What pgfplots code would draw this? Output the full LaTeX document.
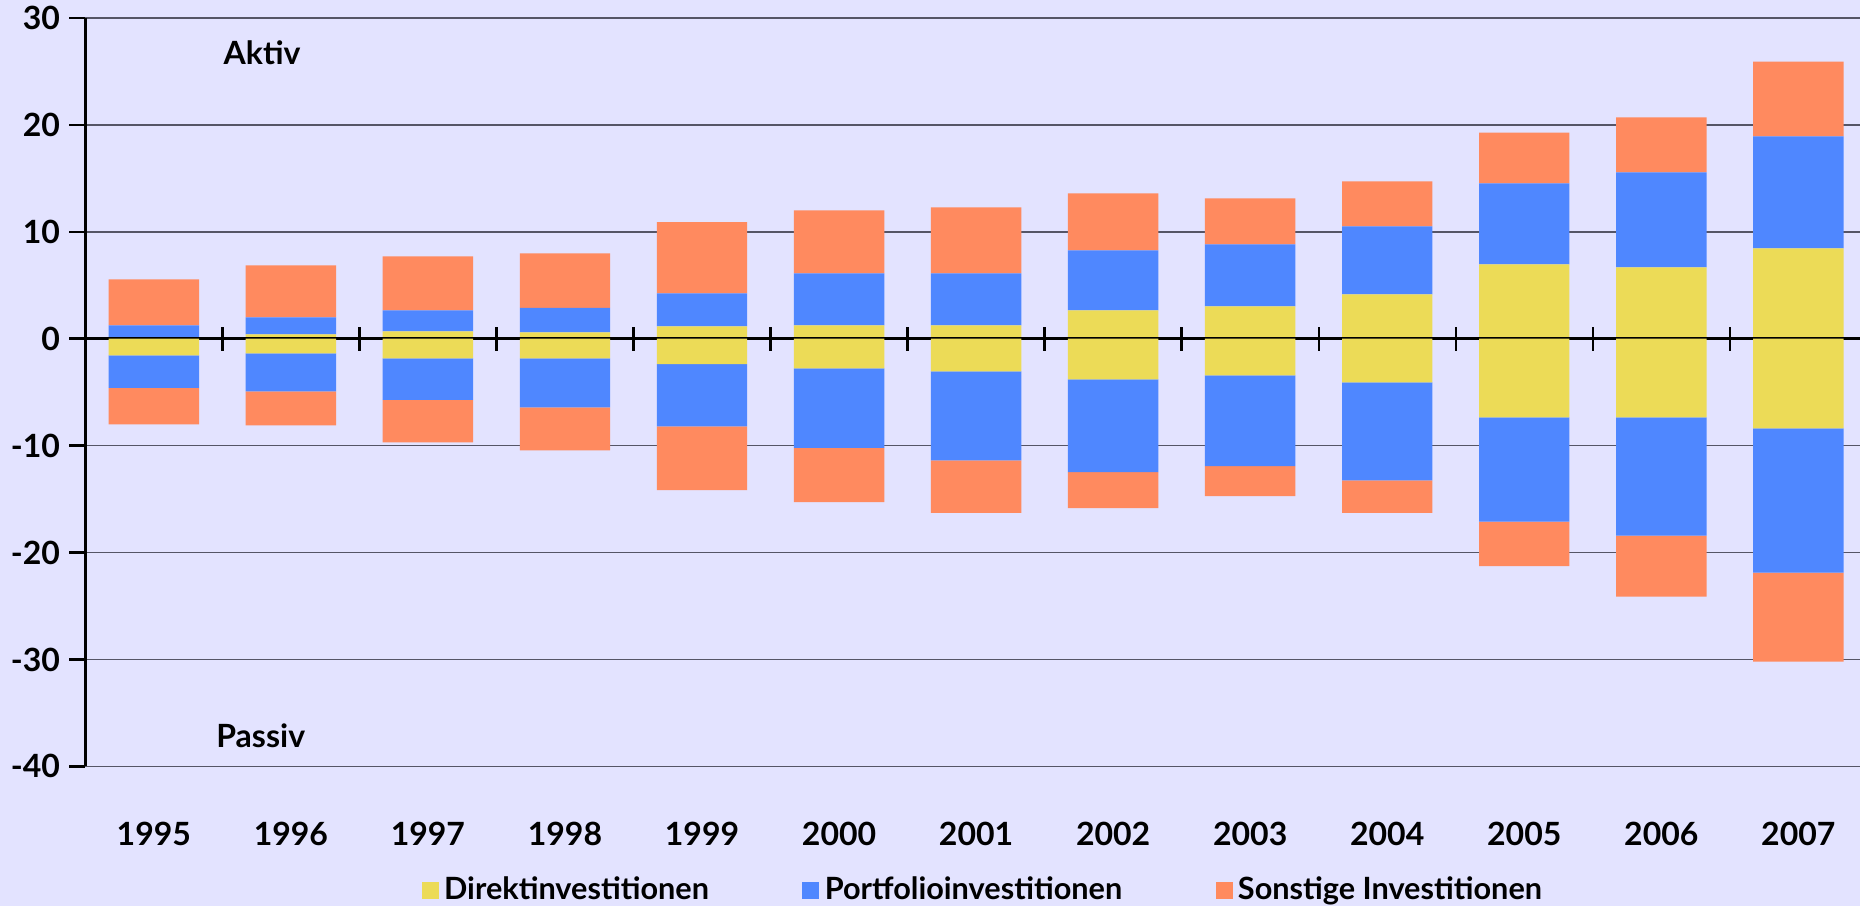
\documentclass[border=0pt]{standalone}
\usepackage{pgfplots}
\pgfplotsset{compat=1.18}
\usepackage{pgfplotstable}
\usepackage{fontspec}
\setmainfont{Lato}

\definecolor{bg}{HTML}{E3E3FF}
\definecolor{direkt}{HTML}{ECDB57}
\definecolor{portf}{HTML}{4F87FF}
\definecolor{sonst}{HTML}{FF8A5F}
\definecolor{gridc}{HTML}{555566}

% positive part (Aktiv) and negative part (Passiv) per category
\pgfplotstableread{
x  Dp    Pp     Sp    Dn     Pn      Sn
0  0.00  1.25   4.30  -1.56  -3.05   -3.40
1  0.40  1.60   4.85  -1.37  -3.55   -3.18
2  0.69  1.96   5.05  -1.84  -3.89   -3.96
3  0.60  2.27   5.11  -1.84  -4.58   -4.02
4  1.15  3.09   6.66  -2.37  -5.82   -5.97
5  1.25  4.85   5.90  -2.77  -7.45   -5.07
6  1.25  4.85   6.17  -3.05  -8.32   -4.93
7  2.65  5.61   5.32  -3.80  -8.69   -3.36
8  3.02  5.80   4.30  -3.43  -8.50   -2.79
9  4.14  6.36   4.20  -4.08  -9.16   -3.06
10 6.95  7.57   4.76  -7.35  -9.75   -4.18
11 6.67  8.88   5.14  -7.35  -11.06  -5.71
12 8.44  10.47  7.01  -8.38  -13.49  -8.33
}\datatable

\pgfplotsset{
  base/.style={
    scale only axis, width=665.5pt, height=280.7pt,
    at={(0pt,0pt)}, anchor=south west,
    xmin=-0.5, xmax=12.45, ymin=-40, ymax=30,
    ybar stacked, bar width=0.66,
  },
}

\begin{document}
\begin{tikzpicture}
\fill[bg] (-32pt,-52.4pt) rectangle (665.5pt,287.4pt);

\begin{axis}[base,
  axis y line*=left,
  axis x line*=bottom,
  x axis line style={draw=none},
  y axis line style={line width=0.9pt},
  xtick={0,...,12},
  xticklabels={1995,1996,1997,1998,1999,2000,2001,2002,2003,2004,2005,2006,2007},
  xtick style={draw=none},
  xticklabel style={anchor=center, yshift=-19.4pt},
  ytick={-40,-30,...,30},
  ytick style={line width=0.9pt, black},
  tick align=outside, major tick length=6pt,
  ymajorgrids, grid style={gridc, line width=0.6pt},
  /pgf/number format/assume math mode=true,
  tick label style={font=\bfseries\fontsize{12}{13}\selectfont},
  legend style={at={(0.5067,-0.1653)}, anchor=center, draw=none, fill=none,
    legend columns=-1, font=\bfseries\fontsize{11.5}{12}\selectfont,
    /tikz/every even column/.append style={column sep=33pt}},
  legend image code/.code={\fill[#1] (0pt,-3.2pt) rectangle (6.4pt,3.2pt);},
]
\addplot[draw=none, fill=direkt] table[x=x, y=Dp] {\datatable};
\addlegendentry{Direktinvestitionen}
\addplot[draw=none, fill=portf] table[x=x, y=Pp] {\datatable};
\addlegendentry{Portfolioinvestitionen}
\addplot[draw=none, fill=sonst] table[x=x, y=Sp] {\datatable};
\addlegendentry{Sonstige Investitionen}
\node[font=\bfseries\fontsize{12}{13}\selectfont] at (axis cs:0.79,26.7) {Aktiv};
\node[font=\bfseries\fontsize{12}{13}\selectfont] at (axis cs:0.78,-37.1) {Passiv};
\end{axis}

\begin{axis}[base,
  axis y line=none,
  axis x line*=middle,
  x axis line style={line width=1.1pt},
  xtick={0.5,1.5,...,11.5},
  xticklabels={},
  xtick style={line width=0.9pt, black},
  tick align=center, major tick length=9pt,
]
\addplot[draw=none, fill=direkt] table[x=x, y=Dn] {\datatable};
\addplot[draw=none, fill=portf] table[x=x, y=Pn] {\datatable};
\addplot[draw=none, fill=sonst] table[x=x, y=Sn] {\datatable};
\end{axis}

\pgfresetboundingbox
\path (-32pt,-52.4pt) rectangle (665.5pt,287.4pt);
\end{tikzpicture}
\end{document}
